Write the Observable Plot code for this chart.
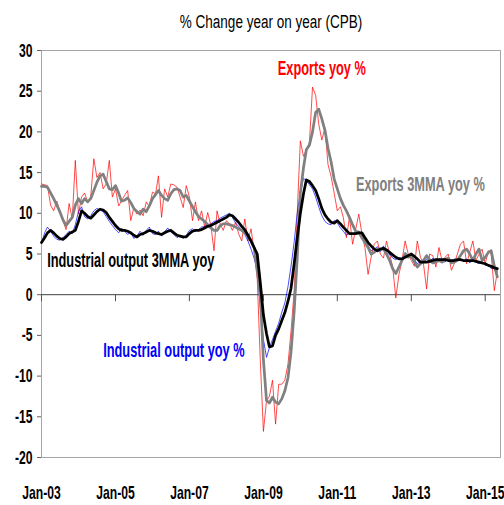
<!DOCTYPE html>
<html><head><meta charset="utf-8">
<script src="https://cdn.jsdelivr.net/npm/d3@7"></script>
<script src="https://cdn.jsdelivr.net/npm/@observablehq/plot@0.6"></script>
<style>body{margin:0;background:#fff}#chart{width:504px;height:505px}</style>
</head><body><div id="chart"></div>
<script>
const titleText = "% Change year on year (CPB)";
const firstMonth = "Jan-03";
const axisEnd = "Jun-15";
const yTicks = [-20, -15, -10, -5, 0, 5, 10, 15, 20, 25, 30];
const xTickLabels = ["Jan-03", "Jan-05", "Jan-07", "Jan-09", "Jan-11", "Jan-13", "Jan-15"];

// Exports yoy % (monthly, Jan-03 .. May-15)
const exportsYoy = [
  13.6, 13.5, 13.4, 11.0, 10.3, 11.5, 10.3, 9.1, 8.0, 11.2,
  9.3, 16.5, 9.9, 12.0, 12.5, 11.4, 12.0, 16.7, 14.4, 15.0,
  13.0, 13.6, 16.5, 12.0, 13.0, 10.9, 11.5, 12.2, 12.8, 9.1,
  10.7, 9.9, 10.4, 9.7, 11.4, 10.8, 12.6, 12.4, 14.6, 9.5,
  13.0, 12.0, 13.6, 13.5, 13.2, 12.0, 10.7, 13.4, 12.0, 9.1,
  11.4, 9.1, 10.3, 8.3, 10.1, 8.5, 5.4, 10.3, 8.7, 7.9,
  9.1, 8.7, 7.9, 8.9, 7.5, 6.6, 9.3, 6.6, 8.1, 5.4,
  2.0, -8.0, -16.8, -13.0, -12.5, -10.5, -15.9, -11.0, -11.0, -10.5,
  -8.5, -4.5, 0.5, 10.0, 18.9, 17.0, 17.8, 18.7, 25.5, 24.5,
  21.0, 19.0, 20.5, 16.0, 14.5, 12.5, 10.3, 10.8, 9.5, 7.0,
  9.5, 6.2, 8.0, 9.9, 7.5, 5.8, 2.5, 4.6, 6.2, 6.6,
  5.0, 4.5, 6.6, 5.0, 3.4, -0.4, 2.5, 4.2, 6.6, 5.0,
  4.2, 3.5, 6.6, 4.6, 3.8, 0.7, 5.0, 4.8, 3.4, 5.8,
  4.2, 4.6, 5.0, 3.0, 3.8, 5.0, 6.2, 6.6, 3.8, 5.2,
  6.6, 4.2, 5.0, 5.6, 3.8, 5.4, 5.0, 0.5, 2.9
];
// Exports 3MMA yoy %
const exports3mma = [
  13.3, 13.3, 13.2, 12.5, 11.8, 11.0, 10.2, 9.2, 8.5, 9.0,
  9.5, 11.0, 11.8, 11.2, 11.8, 11.4, 11.8, 12.8, 13.8, 14.6,
  14.8, 13.9, 13.0, 12.9, 13.4, 12.5, 11.5, 11.6, 11.9, 11.3,
  10.6, 10.2, 9.9, 10.5, 10.2, 10.9, 11.8, 12.3, 12.8, 12.2,
  11.8, 11.6, 12.4, 12.9, 13.0, 12.8, 12.0, 12.2, 11.5, 10.8,
  10.2, 9.6, 9.3, 9.0, 8.6, 8.2, 7.9, 7.9, 8.5, 8.7,
  8.7, 8.6, 8.5, 8.3, 8.1, 7.9, 7.6, 7.2, 6.6, 5.8,
  3.0, 0.0, -8.0, -13.0, -13.3, -12.6, -13.2, -13.4, -12.8, -11.8,
  -10.2, -7.0, -2.0, 4.5, 12.5, 15.6, 17.8, 18.4, 20.0, 22.4,
  22.8, 21.6, 20.2, 18.0, 16.3, 14.2, 13.0, 11.8, 11.0, 10.3,
  9.5, 8.6, 7.8, 7.7, 7.0, 6.4, 5.8, 5.0, 5.2, 5.6,
  5.6, 5.6, 5.0, 4.2, 3.2, 2.6, 3.4, 4.2, 5.0, 4.6,
  4.7, 4.0, 3.4, 3.8, 4.2, 4.8, 4.3, 3.9, 4.0, 4.2,
  4.0, 4.3, 4.5, 3.9, 4.0, 4.2, 4.8, 5.4, 5.6, 5.0,
  4.2, 5.0, 5.6, 4.2, 4.6, 5.2, 5.4, 3.5, 2.2
];
// Industrial output yoy %
const outputYoy = [
  6.3, 7.6, 8.3, 7.8, 7.2, 6.8, 6.7, 7.0, 7.4, 7.8,
  7.5, 8.6, 10.2, 10.8, 9.6, 9.3, 9.7, 10.3, 10.6, 10.4,
  10.2, 9.6, 9.0, 8.5, 8.0, 7.6, 8.2, 7.8, 7.4, 7.7,
  6.9, 7.2, 7.8, 7.3, 7.9, 8.3, 7.5, 7.4, 7.8, 7.2,
  7.7, 8.2, 7.7, 7.4, 7.0, 7.3, 6.9, 7.3, 7.9, 8.1,
  7.8, 8.0, 8.3, 8.4, 8.6, 8.7, 9.0, 9.1, 9.4, 9.6,
  9.8, 10.0, 9.5, 8.8, 8.4, 8.0, 7.4, 6.6, 5.6, 4.5,
  3.0, -1.5, -5.5, -7.7, -6.5, -5.5, -4.5, -3.5, -2.2, -1.0,
  1.0, 3.5, 6.5, 10.0, 12.5, 14.3, 14.0, 13.5, 13.0, 12.0,
  10.8, 9.7, 9.0, 8.7, 8.6, 9.1, 8.8, 8.2, 7.8, 7.3,
  7.6, 7.4, 7.7, 7.5, 7.0, 6.5, 6.0, 5.4, 5.6, 5.9,
  5.3, 6.0, 5.0, 5.0, 4.5, 4.3, 4.6, 4.4, 5.2, 4.8,
  4.6, 4.3, 3.8, 4.1, 3.9, 4.4, 4.0, 4.5, 4.1, 4.4,
  4.2, 4.0, 4.5, 4.0, 4.4, 4.2, 4.3, 4.1, 4.4, 3.9,
  4.3, 4.0, 3.8, 4.1, 3.6, 3.7, 3.2, 3.3, 3.0
];
// Industrial output 3MMA yoy
const output3mma = [
  6.4, 7.0, 7.6, 7.9, 7.6, 7.2, 6.9, 6.8, 7.1, 7.5,
  7.7, 7.9, 9.0, 10.3, 10.0, 9.6, 9.4, 9.8, 10.2, 10.5,
  10.4, 10.1, 9.5, 9.0, 8.5, 8.1, 7.9, 7.9, 7.8, 7.6,
  7.3, 7.1, 7.4, 7.5, 7.7, 7.9, 7.8, 7.6, 7.5, 7.4,
  7.6, 7.8, 7.9, 7.6, 7.3, 7.2, 7.1, 7.1, 7.5, 7.8,
  7.9, 7.9, 8.0, 8.2, 8.4, 8.5, 8.7, 8.9, 9.1, 9.3,
  9.5, 9.8, 9.7, 9.3, 8.9, 8.4, 8.0, 7.3, 6.6, 5.8,
  5.0, 1.5, -2.5, -4.8, -6.4, -6.3, -5.0, -4.2, -3.2, -2.2,
  -0.8, 0.8, 3.8, 7.0, 10.0, 12.4, 14.1, 13.9, 13.4, 12.8,
  11.8, 10.6, 9.8, 9.3, 8.9, 8.8, 9.1, 8.7, 8.3, 7.9,
  7.5, 7.5, 7.5, 7.6, 7.6, 7.0, 6.4, 6.0, 5.6, 5.4,
  5.6, 5.7, 5.5, 5.2, 4.9, 4.6, 4.4, 4.4, 4.6, 4.8,
  5.0, 4.7, 4.4, 4.0, 4.0, 4.0, 4.1, 4.2, 4.3, 4.3,
  4.3, 4.3, 4.2, 4.2, 4.2, 4.3, 4.3, 4.2, 4.2, 4.2,
  4.2, 4.1, 4.0, 3.9, 3.8, 3.6, 3.5, 3.3, 3.2
];

// series label annotations (text, anchor month, anchor value)
const labelTexts = ["Exports yoy %", "Exports 3MMA yoy %", "Industrial output 3MMA yoy", "Industrial output yoy %"];
const labelMonths = ["Aug-10", "Apr-13", "Jun-05", "Aug-06"];
const labelValues = [27.8, 13.5, 4.2, -6.9];
const labelColors = ["#ff0000", "#808080", "#000000", "#0000ff"];

const parse = d3.utcParse("%b-%y");
const start = parse(firstMonth);
const months = d3.utcMonth.range(start, d3.utcMonth.offset(start, exportsYoy.length));
const rows = (vals) => vals.map((v, i) => ({date: months[i], value: v}));
const xTickDates = xTickLabels.map(parse);
const labelByTime = new Map(xTickLabels.map((l) => [+parse(l), l]));
const labels = labelTexts.map((t, i) => ({text: t, date: parse(labelMonths[i]), value: labelValues[i], color: labelColors[i]}));

const chart = Plot.plot({
  width: 504, height: 505,
  marginLeft: 41, marginRight: 4, marginTop: 50, marginBottom: 48,
  style: {fontFamily: "'Liberation Sans', Arial, sans-serif", background: "#fff", color: "#000"},
  x: {type: "utc", domain: [start, parse(axisEnd)]},
  y: {domain: [-20, 30]},
  marks: [
    Plot.frame({stroke: "#a6a6a6"}),
    Plot.ruleY([0], {stroke: "#404040", strokeWidth: 1}),
    Plot.ruleX(xTickDates, {x: (d) => d, y1: 0, y2: 0, insetBottom: -7, stroke: "#505050"}),
    Plot.axisY({ticks: yTicks, tickSize: 4, tickPadding: 5, tickFormat: (d) => String(d), fontSize: 19, fontWeight: "bold", stroke: "#606060", fill: "#000", label: null}),
    Plot.axisX({ticks: xTickDates, tickSize: 0, tickPadding: 28, tickFormat: (d) => labelByTime.get(+d), fontSize: 19, fontWeight: "bold", fill: "#000", label: null}),
    Plot.lineY(rows(exportsYoy), {x: "date", y: "value", stroke: "#ff0000", strokeWidth: 1, strokeOpacity: 0.7}),
    Plot.lineY(rows(outputYoy), {x: "date", y: "value", stroke: "#0000ff", strokeWidth: 1, strokeOpacity: 0.7}),
    Plot.lineY(rows(exports3mma), {x: "date", y: "value", stroke: "#808080", strokeWidth: 2.75}),
    Plot.lineY(rows(output3mma), {x: "date", y: "value", stroke: "#000000", strokeWidth: 2.75}),
    Plot.text(labels, {x: "date", y: "value", text: "text", fill: "color", fontSize: 20, fontWeight: "bold"}),
    Plot.text([titleText], {frameAnchor: "top", dy: -35, fontSize: 18, fill: "#000"})
  ]
});
document.getElementById("chart").append(chart);
chart.querySelectorAll("text").forEach((t) => {
  const f = t.textContent === titleText ? 0.75 : 0.64;
  const len = t.getComputedTextLength();
  if (len > 0) {
    t.setAttribute("textLength", (len * f).toFixed(1));
    t.setAttribute("lengthAdjust", "spacingAndGlyphs");
  }
});
</script></body></html>
